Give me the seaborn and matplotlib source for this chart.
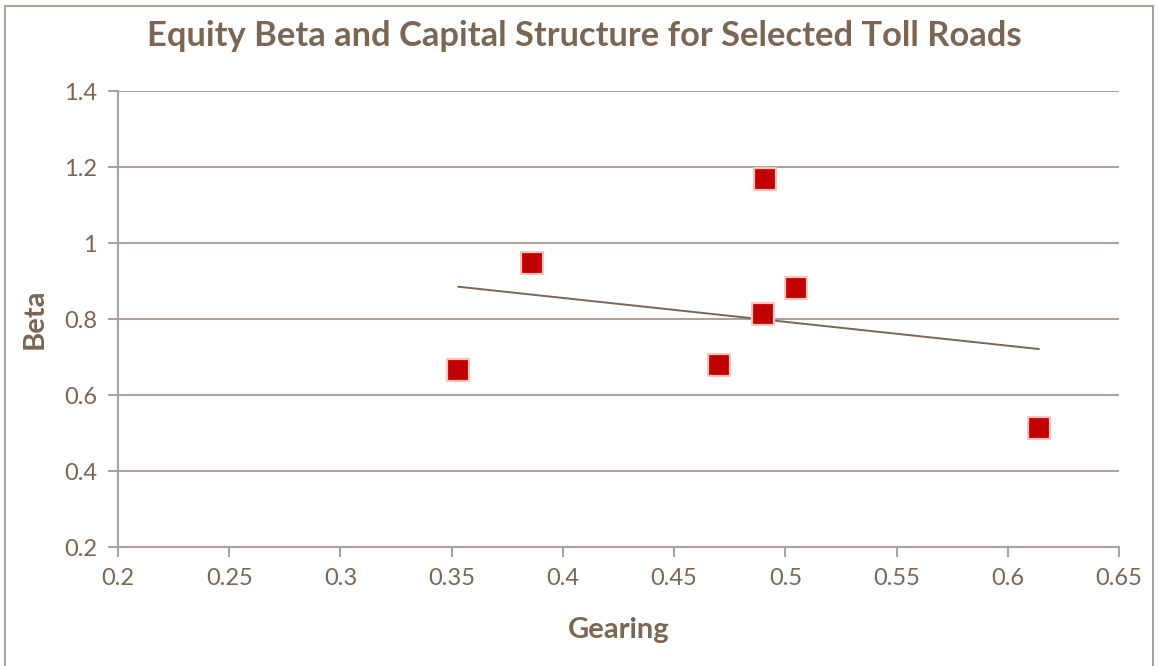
import matplotlib
matplotlib.use("Agg")
import matplotlib.pyplot as plt
import seaborn as sns
import numpy as np
import pandas as pd
from matplotlib.patches import Rectangle

# Gearing (debt share) and equity beta for each toll road
gearing = [0.353, 0.386, 0.470, 0.491, 0.490, 0.505, 0.614]
beta = [0.666, 0.947, 0.679, 1.168, 0.813, 0.882, 0.513]

x_ticks = [0.2, 0.25, 0.3, 0.35, 0.4, 0.45, 0.5, 0.55, 0.6, 0.65]
x_tick_labels = ["0.2", "0.25", "0.3", "0.35", "0.4", "0.45", "0.5", "0.55", "0.6", "0.65"]
y_ticks = [0.2, 0.4, 0.6, 0.8, 1.0, 1.2, 1.4]
y_tick_labels = ["0.2", "0.4", "0.6", "0.8", "1", "1.2", "1.4"]

df = pd.DataFrame({"Gearing": gearing, "Beta": beta})

sns.set_theme(style="white")
plt.rcParams["font.family"] = ["Lato", "DejaVu Sans"]

TEXT = "#7a6652"
GRID = "#aba39b"

fig = plt.figure(figsize=(11.58, 6.66), dpi=100)
ax = fig.add_axes([118 / 1158, 1 - 547 / 666, (1119 - 118) / 1158, (547 - 91) / 666])

# chart-area border
fig.patches.append(Rectangle((5 / 1158, -0.01), 1148 / 1158, 1 - 6 / 666 + 0.01,
                             transform=fig.transFigure, fill=False,
                             edgecolor=GRID, linewidth=1.5))

sns.regplot(data=df, x="Gearing", y="Beta", ax=ax, ci=None, marker="s",
            scatter_kws=dict(s=250, color="#c00000", edgecolors="#f8c4be",
                             linewidths=1.6, zorder=4, alpha=1),
            line_kws=dict(color="#7a6652", linewidth=1.4, zorder=3))

ax.set_xlim(0.2, 0.65)
ax.set_ylim(0.2, 1.4)
ax.set_xticks(x_ticks)
ax.set_xticklabels(x_tick_labels)
ax.set_yticks(y_ticks)
ax.set_yticklabels(y_tick_labels)

ax.grid(axis="y", color=GRID, linewidth=1.5)
ax.grid(axis="x", visible=False)
ax.set_axisbelow(True)
for side in ["top", "right"]:
    ax.spines[side].set_visible(False)
for side in ["left", "bottom"]:
    ax.spines[side].set_color(GRID)
    ax.spines[side].set_linewidth(1.5)

ax.tick_params(axis="both", which="both", direction="out", length=7, width=1.5,
               color=GRID, labelcolor=TEXT, labelsize=17, pad=8, left=True, bottom=True)

ax.set_xlabel("Gearing", fontsize=21, fontweight="bold", color=TEXT, labelpad=20)
ax.set_ylabel("Beta", fontsize=21, fontweight="bold", color=TEXT, labelpad=12)
fig.text(584 / 1158, 1 - 36 / 666, "Equity Beta and Capital Structure for Selected Toll Roads",
         ha="center", va="center", fontsize=24.8, fontweight="bold", color=TEXT)

fig.savefig("out.png", dpi=100, facecolor="white")
